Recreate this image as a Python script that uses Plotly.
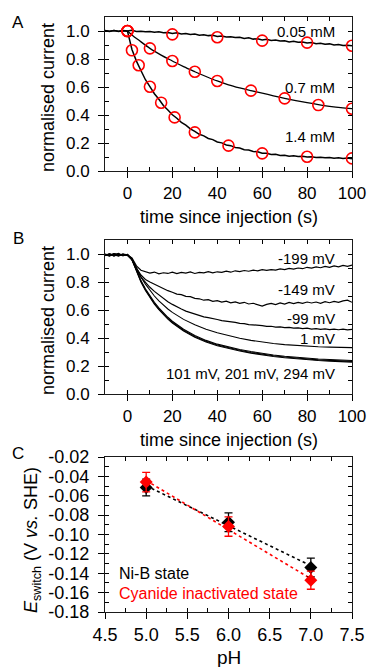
import numpy as np
import plotly.graph_objects as go

FONT = "Arial, Liberation Sans, Helvetica, sans-serif"
AX = "#1a1a1a"
RED = "#ff0000"
W, H = 369, 667

# ---------------- Panel A data ----------------
T_NOISY = [-10, -8, -6, -4, -2, 0, 2, 4, 6, 8, 10, 12, 14, 16, 18, 20, 22, 24, 26, 28,
           30, 32, 34, 36, 38, 40, 42, 44, 46, 48, 50, 52, 54, 56, 58, 60, 62, 64, 66, 68,
           70, 72, 74, 76, 78, 80, 82, 84, 86, 88, 90, 92, 94, 96, 98, 100]

A_005 = [1.002, 0.997, 1.004, 0.999, 1.003, 1.000, 1.005, 0.996, 0.999, 0.994,
         0.997, 0.991, 0.995, 0.988, 0.990, 0.983, 0.987, 0.978, 0.982, 0.975,
         0.978, 0.970, 0.973, 0.967, 0.970, 0.961, 0.965, 0.957, 0.959, 0.953,
         0.956, 0.947, 0.951, 0.942, 0.945, 0.936, 0.941, 0.932, 0.935, 0.928,
         0.931, 0.922, 0.926, 0.919, 0.921, 0.914, 0.918, 0.909, 0.912, 0.905,
         0.908, 0.900, 0.904, 0.896, 0.899, 0.894]

A_14 = [1.003, 0.998, 1.004, 0.996, 1.002, 0.999,
        0.868, 0.785, 0.718, 0.652, 0.603, 0.552, 0.512, 0.468, 0.436, 0.402,
        0.377, 0.348, 0.327, 0.301, 0.283, 0.262, 0.251, 0.232, 0.224, 0.207,
        0.201, 0.186, 0.181, 0.168, 0.164, 0.152, 0.150, 0.139, 0.138, 0.127,
        0.126, 0.118, 0.119, 0.111, 0.112, 0.106, 0.109, 0.103, 0.106, 0.100,
        0.102, 0.096, 0.099, 0.094, 0.097, 0.091, 0.094, 0.089, 0.092, 0.088]

T_A07 = [0, 2, 5, 10, 15, 20, 25, 30, 35, 40, 45, 50, 55, 60, 65, 70, 75, 80, 85, 90, 95, 100]
A_07 = [1.0, 0.972, 0.935, 0.876, 0.828, 0.786, 0.745, 0.709, 0.675, 0.643, 0.615,
        0.593, 0.574, 0.556, 0.537, 0.519, 0.503, 0.488, 0.474, 0.462, 0.452, 0.445]

T_M005 = [0, 20, 40, 60, 80, 100]
M_005 = [1.0, 0.976, 0.955, 0.931, 0.917, 0.895]
T_M07 = [0, 10, 20, 30, 40, 55, 70, 85, 100]
M_07 = [1.0, 0.876, 0.786, 0.709, 0.643, 0.574, 0.519, 0.471, 0.445]
T_M14 = [0, 2, 5, 10, 15, 21, 30, 45, 60, 80, 100]
M_14 = [1.0, 0.862, 0.755, 0.602, 0.488, 0.383, 0.276, 0.181, 0.126, 0.102, 0.090]

A_LABELS = ["0.05 mM", "0.7 mM", "1.4 mM"]
A_LABEL_Y = [0.993, 0.593, 0.243]

# ---------------- Panel B data ----------------
B_M199 = [0.995, 0.985, 1.002, 0.990, 0.998, 0.992,
          0.972, 0.915, 0.884, 0.872, 0.864, 0.871, 0.858, 0.866, 0.861, 0.870,
          0.860, 0.868, 0.863, 0.872, 0.861, 0.869, 0.865, 0.874, 0.866, 0.873,
          0.869, 0.878, 0.870, 0.880, 0.874, 0.882, 0.877, 0.885, 0.879, 0.888,
          0.883, 0.889, 0.885, 0.893, 0.888, 0.897, 0.892, 0.900, 0.895, 0.905,
          0.899, 0.908, 0.902, 0.912, 0.905, 0.915, 0.908, 0.918, 0.912, 0.921]

B_M149 = [0.990, 1.000, 0.985, 0.998, 0.990, 0.995,
          0.962, 0.900, 0.850, 0.818, 0.800, 0.784, 0.766, 0.752, 0.738, 0.727,
          0.714, 0.710, 0.697, 0.695, 0.683, 0.680, 0.670, 0.674, 0.662, 0.667,
          0.656, 0.663, 0.651, 0.658, 0.647, 0.655, 0.643, 0.648, 0.636, 0.628,
          0.640, 0.647, 0.639, 0.650, 0.642, 0.654, 0.646, 0.655, 0.648, 0.657,
          0.650, 0.657, 0.648, 0.659, 0.652, 0.661, 0.654, 0.665, 0.670, 0.655]

B_M99 = [0.996, 0.990, 1.001, 0.988, 0.996, 0.990,
         0.958, 0.889, 0.834, 0.794, 0.762, 0.733, 0.707, 0.683, 0.659, 0.640,
         0.621, 0.607, 0.592, 0.581, 0.569, 0.561, 0.551, 0.545, 0.536, 0.532,
         0.524, 0.521, 0.513, 0.511, 0.504, 0.503, 0.496, 0.495, 0.489, 0.489,
         0.483, 0.484, 0.478, 0.479, 0.474, 0.476, 0.470, 0.472, 0.467, 0.470,
         0.464, 0.467, 0.461, 0.465, 0.460, 0.464, 0.459, 0.463, 0.458, 0.461]

T_SMOOTH = [-10, -8, -6, -4, -2, 0, 2, 4, 6, 8, 10, 12, 14, 16, 18, 20,
            25, 30, 35, 40, 45, 50, 55, 60, 65, 70, 75, 80, 85, 90, 95, 100]

B_1 = [0.993, 0.999, 0.987, 1.002, 0.991, 0.997,
       0.968, 0.895, 0.835, 0.785, 0.740, 0.700, 0.665, 0.635, 0.607, 0.583,
       0.533, 0.494, 0.462, 0.437, 0.415, 0.398, 0.383, 0.371, 0.361, 0.353,
       0.347, 0.342, 0.338, 0.335, 0.333, 0.331]
B_101 = [0.998, 0.986, 1.003, 0.992, 1.000, 0.994,
         0.962, 0.880, 0.810, 0.752, 0.700, 0.655, 0.615, 0.580, 0.548, 0.520,
         0.462, 0.418, 0.383, 0.356, 0.335, 0.318, 0.303, 0.290, 0.279, 0.270,
         0.262, 0.256, 0.250, 0.246, 0.242, 0.239]
B_201 = [0.988, 1.001, 0.994, 0.985, 0.999, 0.990,
         0.960, 0.876, 0.805, 0.745, 0.693, 0.647, 0.607, 0.572, 0.540, 0.512,
         0.455, 0.411, 0.377, 0.350, 0.329, 0.312, 0.297, 0.284, 0.273, 0.264,
         0.256, 0.250, 0.244, 0.240, 0.236, 0.233]
B_294 = [1.000, 0.991, 0.996, 1.004, 0.987, 0.998,
         0.958, 0.872, 0.800, 0.740, 0.688, 0.642, 0.602, 0.567, 0.535, 0.507,
         0.450, 0.406, 0.372, 0.345, 0.324, 0.307, 0.292, 0.279, 0.268, 0.259,
         0.251, 0.245, 0.239, 0.235, 0.231, 0.228]

B_LABELS = ["-199 mV", "-149 mV", "-99 mV", "1 mV", "101 mV, 201 mV, 294 mV"]
B_LABEL_Y = [0.970, 0.743, 0.536, 0.400, 0.143]

# ---------------- Panel C data ----------------
PH = [5.0, 6.0, 7.0]
NIB = [-0.0515, -0.0873, -0.1340]
NIB_ERR = [0.0086, 0.0097, 0.0097]
CN = [-0.0459, -0.0918, -0.1472]
CN_ERR = [0.0100, 0.0100, 0.0093]
C_Y_TICKS = [-0.18, -0.16, -0.14, -0.12, -0.10, -0.08, -0.06, -0.04, -0.02]

# ---------------- geometry ----------------
def py(p):
    return 1 - p / H

XDOM = [105 / W, 352 / W]
A_DOM = [py(171), py(17)]
B_DOM = [py(394), py(240)]
C_DOM = [py(612), py(457)]

fig = go.Figure()

# Panel A
fig.add_trace(go.Scatter(x=T_A07, y=A_07, mode="lines", line=dict(color="black", width=1.3, shape="spline"),
                         xaxis="x", yaxis="y", showlegend=False))
fig.add_trace(go.Scatter(x=T_NOISY, y=A_005, mode="lines", line=dict(color="black", width=1.5),
                         xaxis="x", yaxis="y", showlegend=False))
fig.add_trace(go.Scatter(x=T_NOISY, y=A_14, mode="lines", line=dict(color="black", width=1.5),
                         xaxis="x", yaxis="y", showlegend=False))
for tx, my in [(T_M005, M_005), (T_M07, M_07), (T_M14, M_14)]:
    fig.add_trace(go.Scatter(x=tx, y=my, mode="markers",
                             marker=dict(symbol="circle-open", size=11, color=RED, line=dict(width=1.6, color=RED)),
                             xaxis="x", yaxis="y", showlegend=False))

# Panel B
for ys in [B_M199, B_M149, B_M99]:
    fig.add_trace(go.Scatter(x=T_NOISY, y=ys, mode="lines", line=dict(color="black", width=1.2),
                             xaxis="x2", yaxis="y2", showlegend=False))
for ys in [B_1, B_101, B_201, B_294]:
    fig.add_trace(go.Scatter(x=T_SMOOTH, y=ys, mode="lines", line=dict(color="black", width=1.1),
                             xaxis="x2", yaxis="y2", showlegend=False))

# Panel C fits
fit_x = [PH[0], PH[-1]]
for ys, col in [(NIB, "black"), (CN, RED)]:
    k, b = np.polyfit(PH, ys, 1)
    fig.add_trace(go.Scatter(x=fit_x, y=[k * v + b for v in fit_x], mode="lines",
                             line=dict(color=col, width=1.6, dash="dot"),
                             xaxis="x3", yaxis="y3", showlegend=False))
for ys, err, col in [(NIB, NIB_ERR, "black"), (CN, CN_ERR, RED)]:
    fig.add_trace(go.Scatter(x=PH, y=ys, mode="markers",
                             marker=dict(symbol="diamond", size=10, color=col),
                             error_y=dict(type="data", array=err, color=col, thickness=1.3, width=4),
                             xaxis="x3", yaxis="y3", showlegend=False))

# invisible traces so the overlay (inside-tick) axes get drawn
OV = {4: ([-10, 100], [0, 1.1]), 5: ([-10, 100], [0, 1.1]), 6: ([4.5, 7.5], [-0.18, -0.02])}
for i, (xr, yr) in OV.items():
    fig.add_trace(go.Scatter(x=[xr[0]], y=[yr[0]], mode="markers", marker=dict(opacity=0, size=1),
                             xaxis=f"x{i}", yaxis=f"y{i}", showlegend=False, hoverinfo="skip"))

tickfont = dict(family=FONT, size=17, color="black")
tickfontC = dict(family=FONT, size=18, color="black")


def prim(domain, anchor, rng, font, **kw):
    d = dict(domain=domain, anchor=anchor, range=rng, showline=True, linecolor=AX, linewidth=1.3,
             mirror=True, ticks="outside", ticklen=6, tickwidth=1.3, tickcolor="black", automargin=False,
             showgrid=False, zeroline=False, tickfont=font)
    d.update(kw)
    return d


def over(overlaying, anchor, rng, side, **kw):
    d = dict(overlaying=overlaying, anchor=anchor, range=rng, side=side, showline=False, automargin=False,
             mirror="ticks", ticks="inside", ticklen=4, tickwidth=1.2, tickcolor="black",
             showticklabels=False, showgrid=False, zeroline=False)
    d.update(kw)
    return d


layout = dict(
    width=W, height=H, margin=dict(l=0, r=0, t=0, b=0, pad=0, autoexpand=False),
    paper_bgcolor="white", plot_bgcolor="white", showlegend=False,
    font=dict(family=FONT, color="black"),
)

layout["xaxis"] = prim(XDOM, "y", [-10, 100], tickfont, tick0=0, dtick=20)
layout["yaxis"] = prim(A_DOM, "x", [0, 1.1], tickfont, tick0=0, dtick=0.2, tickformat=".1f", ticksuffix=" ")
layout["xaxis2"] = prim(XDOM, "y2", [-10, 100], tickfont, tick0=0, dtick=20)
layout["yaxis2"] = prim(B_DOM, "x2", [0, 1.1], tickfont, tick0=0, dtick=0.2, tickformat=".1f", ticksuffix=" ")
layout["xaxis3"] = prim(XDOM, "y3", [4.5, 7.5], tickfontC, tick0=4.5, dtick=0.5, tickformat=".1f")
layout["yaxis3"] = prim(C_DOM, "x3", [-0.18, -0.02], tickfontC, tickmode="array", tickvals=C_Y_TICKS,
                        ticktext=[f"{v:.2f} " for v in C_Y_TICKS])

layout["xaxis4"] = over("x", "y4", [-10, 100], "bottom", tick0=0, dtick=10)
layout["yaxis4"] = over("y", "x4", [0, 1.1], "left", tick0=0, dtick=0.1)
layout["xaxis5"] = over("x2", "y5", [-10, 100], "bottom", tick0=0, dtick=10)
layout["yaxis5"] = over("y2", "x5", [0, 1.1], "left", tick0=0, dtick=0.1)
layout["xaxis6"] = over("x3", "y6", [4.5, 7.5], "bottom", tick0=4.5, dtick=0.25)
layout["yaxis6"] = over("y3", "x6", [-0.18, -0.02], "left", tick0=-0.18, dtick=0.01)

fig.update_layout(**layout)

ann = []
LABEL_X = 93.5
for txt, yv in zip(A_LABELS, A_LABEL_Y):
    ann.append(dict(x=LABEL_X, y=yv, xref="x", yref="y", text=txt, showarrow=False, xanchor="right",
                    yanchor="middle", font=dict(family=FONT, size=15, color="black")))
for txt, yv in zip(B_LABELS, B_LABEL_Y):
    ann.append(dict(x=LABEL_X, y=yv, xref="x2", yref="y2", text=txt, showarrow=False, xanchor="right",
                    yanchor="middle", font=dict(family=FONT, size=15, color="black")))

ann.append(dict(x=4.65, y=-0.1407, xref="x3", yref="y3", text="Ni-B state", showarrow=False,
                xanchor="left", yanchor="middle", font=dict(family=FONT, size=16, color="black")))
ann.append(dict(x=4.65, y=-0.1604, xref="x3", yref="y3", text="Cyanide inactivated state", showarrow=False,
                xanchor="left", yanchor="middle", font=dict(family=FONT, size=16, color=RED)))

for letter, yp in [("A", 23), ("B", 238), ("C", 453)]:
    ann.append(dict(x=18 / W, y=py(yp), xref="paper", yref="paper", text=letter, showarrow=False,
                    xanchor="center", yanchor="middle", font=dict(family=FONT, size=17, color="black")))

for txt, yp, size in [("time since injection (s)", 216.7, 18), ("time since injection (s)", 440, 18), ("pH", 657, 19)]:
    ann.append(dict(x=229 / W, y=py(yp), xref="paper", yref="paper", text=txt, showarrow=False,
                    xanchor="center", yanchor="middle", font=dict(family=FONT, size=size, color="black")))
for txt, xp, yp in [("normalised current", 48, 98), ("normalised current", 48, 321)]:
    ann.append(dict(x=xp / W, y=py(yp), xref="paper", yref="paper", text=txt, showarrow=False, textangle=-90,
                    xanchor="center", yanchor="middle", font=dict(family=FONT, size=18, color="black")))
ann.append(dict(x=32 / W, y=py(540), xref="paper", yref="paper",
                text="<i>E</i><sub>switch</sub> (V <i>vs.</i> SHE)", showarrow=False, textangle=-90,
                xanchor="center", yanchor="middle", font=dict(family=FONT, size=18, color="black")))

fig.update_layout(annotations=ann)
fig.write_html("out.html", config={"displayModeBar": False},
               post_script="document.documentElement.style.margin='0';document.body.style.margin='0';"
                           "document.body.style.padding='0';document.body.style.overflow='hidden';")
